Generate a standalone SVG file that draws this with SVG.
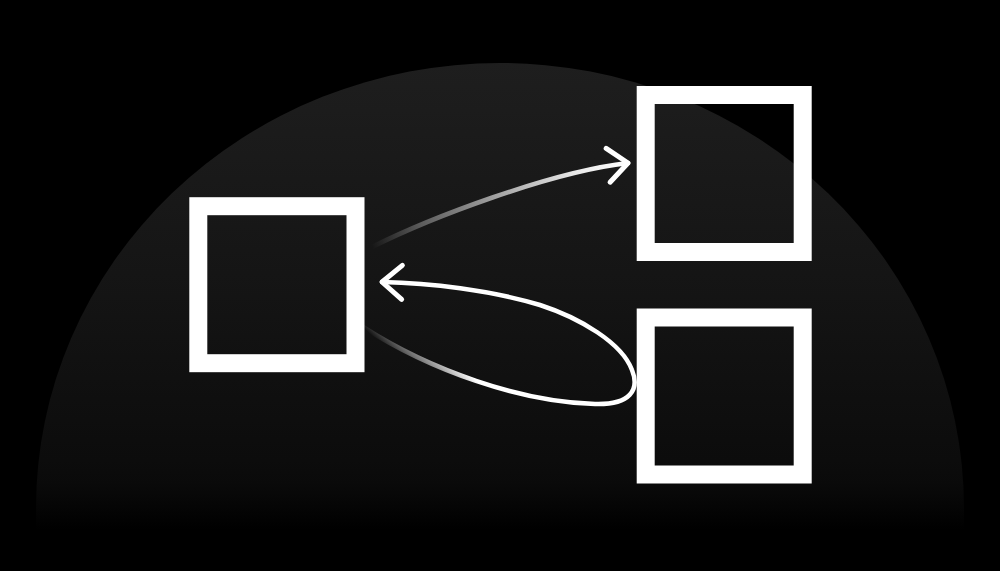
<svg xmlns="http://www.w3.org/2000/svg" width="1000" height="571" viewBox="0 0 1000 571">
  <defs>
    <linearGradient id="domeFill" gradientUnits="userSpaceOnUse" x1="0" y1="63" x2="0" y2="530">
      <stop offset="0" stop-color="#1e1e1e"/>
      <stop offset="0.5" stop-color="#141414"/>
      <stop offset="0.85" stop-color="#0c0c0c"/>
      <stop offset="0.9" stop-color="#0a0a0a"/>
      <stop offset="1" stop-color="#000000"/>
    </linearGradient>
    <linearGradient id="fadeA" gradientUnits="userSpaceOnUse" x1="372" y1="247" x2="628" y2="163">
      <stop offset="0" stop-color="#ffffff" stop-opacity="0"/>
      <stop offset="0.2" stop-color="#ffffff" stop-opacity="0.3"/>
      <stop offset="0.5" stop-color="#ffffff" stop-opacity="0.6"/>
      <stop offset="0.8" stop-color="#ffffff" stop-opacity="0.9"/>
      <stop offset="1" stop-color="#ffffff" stop-opacity="1"/>
    </linearGradient>
    <linearGradient id="fadeB" gradientUnits="userSpaceOnUse" x1="363" y1="327" x2="393" y2="297">
      <stop offset="0" stop-color="#ffffff" stop-opacity="0"/>
      <stop offset="0.3" stop-color="#ffffff" stop-opacity="0.35"/>
      <stop offset="1" stop-color="#ffffff" stop-opacity="1"/>
    </linearGradient>
    <marker id="chev" markerUnits="userSpaceOnUse" viewBox="-30 -25 40 50" markerWidth="40" markerHeight="50" refX="0" refY="0" orient="auto" overflow="visible">
      <path d="M-20,-17 L0,0 L-20,17" fill="none" stroke="#ffffff" stroke-width="5" stroke-linecap="round" stroke-linejoin="round"/>
    </marker>
    <style>
      .node { fill: none; stroke: #ffffff; stroke-width: 18; }
      .conn { fill: none; stroke-width: 4.5; stroke-linecap: round; }
    </style>
  </defs>
  <rect x="0" y="0" width="1000" height="571" fill="#000000"/>
  <path id="dome" d="M36,508 A464,445 0 0 1 964,508 L964,571 L36,571 Z" fill="url(#domeFill)"/>
  <g id="node-left">
    <rect class="node" x="198.3" y="206.2" width="157.2" height="157"/>
  </g>
  <g id="node-top-right">
    <rect class="node" x="645.7" y="95" width="157" height="157"/>
  </g>
  <g id="node-bottom-right">
    <rect class="node" x="645.7" y="317.5" width="157" height="157"/>
  </g>
  <g id="connectors">
    <path class="conn" d="M372,247 C430,218 550,172 628,163" stroke="url(#fadeA)" marker-end="url(#chev)"/>
    <path class="conn" d="M363,327 C430,370 520,402 595,404 C630,405 640,390 632,370 C622,343 580,318 540,305 C490,290 430,283 382,282" stroke="url(#fadeB)" marker-end="url(#chev)"/>
  </g>
</svg>
